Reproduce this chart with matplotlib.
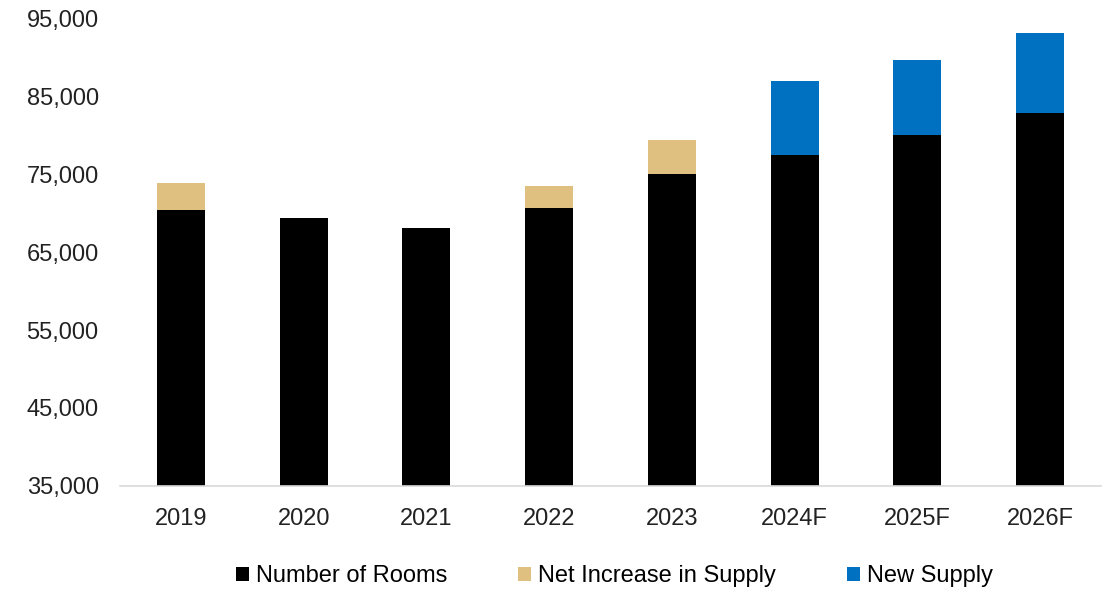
import matplotlib.pyplot as plt
import numpy as np
from matplotlib.ticker import FuncFormatter

plt.rcParams['font.family'] = ['Liberation Sans', 'DejaVu Sans']

years = ['2019', '2020', '2021', '2022', '2023', '2024F', '2025F', '2026F']
rooms = [70400, 69350, 68100, 70650, 75000, 77450, 80000, 82800]
net_increase = [3450, 0, 0, 2800, 4350, 0, 0, 0]
new_supply = [0, 0, 0, 0, 0, 9450, 9600, 10250]

fig = plt.figure(figsize=(11.07, 5.89), dpi=100)
ax = fig.add_axes([0.108, 0.175, 0.887, 0.794])

x = np.arange(len(years))
w = 0.39
base = 35000
ax.bar(x, np.array(rooms) - base, w, bottom=base, color='black', label='Number of Rooms')
ax.bar(x, net_increase, w, bottom=rooms, color='#E0C080', label='Net Increase in Supply')
ax.bar(x, new_supply, w, bottom=rooms, color='#0070C0', label='New Supply')

ax.set_ylim(35000, 95000)
ax.set_yticks(range(35000, 95001, 10000))
ax.yaxis.set_major_formatter(FuncFormatter(lambda v, p: f'{int(v):,}'))
ax.set_xlim(-0.5, len(years) - 0.5)
ax.set_xticks(x)
ax.set_xticklabels(years)

for s in ['top', 'right', 'left']:
    ax.spines[s].set_visible(False)
ax.spines['bottom'].set_color('#d9d9d9')
ax.spines['bottom'].set_linewidth(1.2)
ax.tick_params(axis='both', length=0, labelsize=17, colors='#222222')
ax.tick_params(axis='y', pad=15)
ax.tick_params(axis='x', pad=16)

fig.legend(*ax.get_legend_handles_labels(), loc='center', bbox_to_anchor=(0.555, 0.022),
           ncol=3, frameon=False, fontsize=17, handlelength=0.55, handleheight=0.55,
           handletextpad=0.3, columnspacing=3.0)

fig.savefig('out.png', dpi=100)
